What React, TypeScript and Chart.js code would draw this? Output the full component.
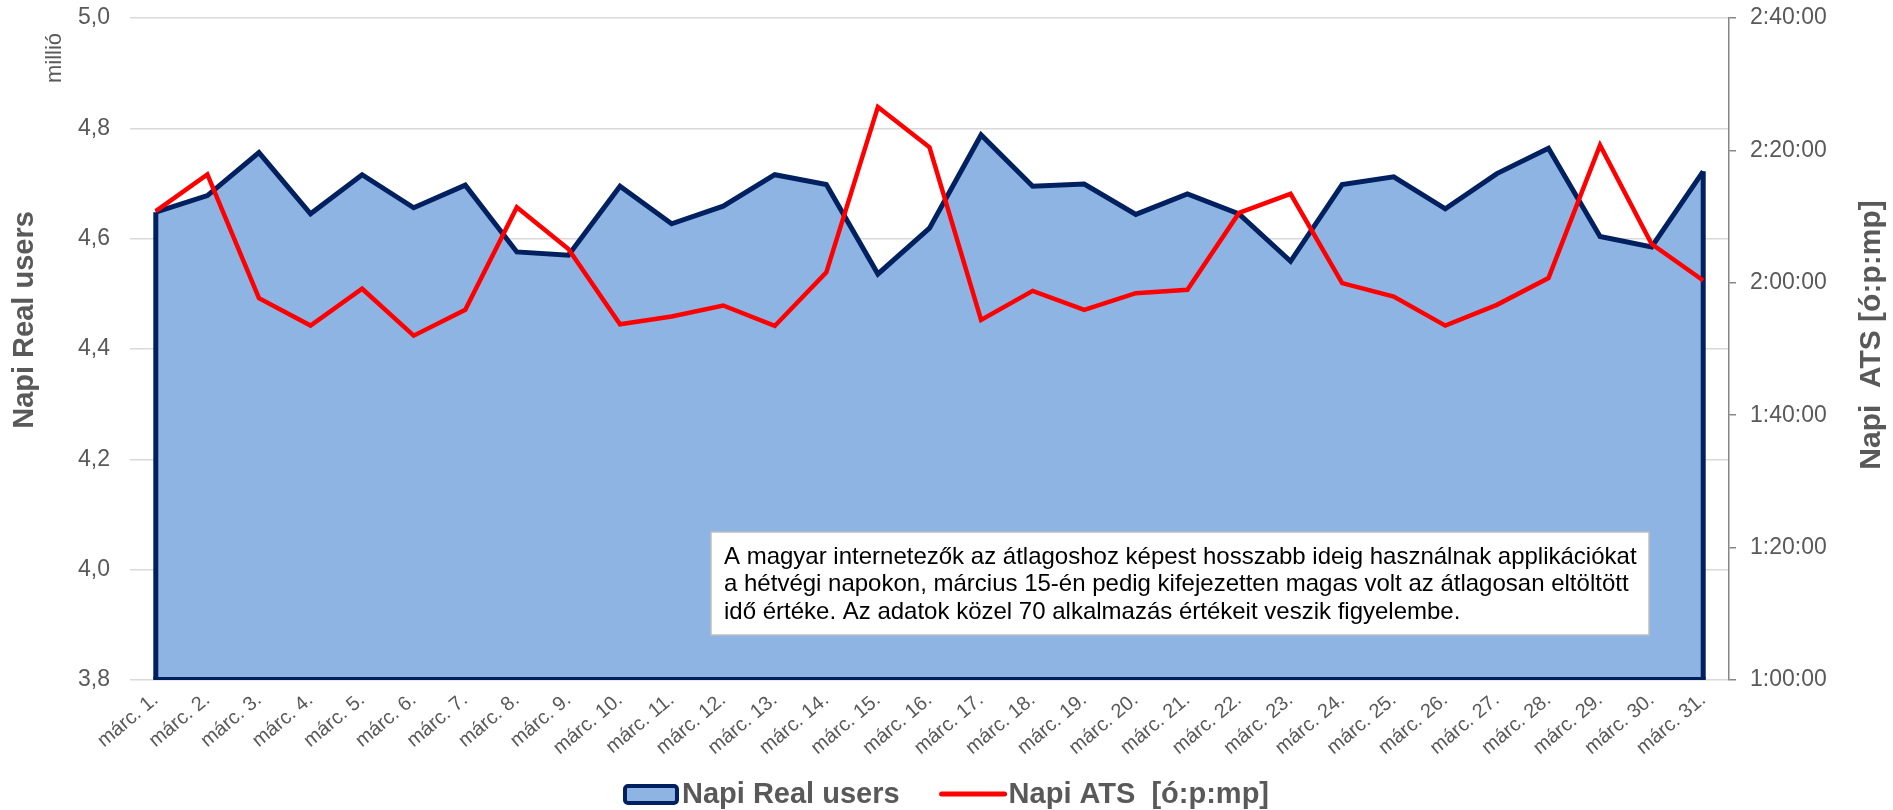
import React, { useEffect, useRef } from 'react';
import { Chart, registerables } from 'chart.js';

Chart.register(...registerables);

const categories = [
  'márc. 1.', 'márc. 2.', 'márc. 3.', 'márc. 4.', 'márc. 5.', 'márc. 6.', 'márc. 7.', 'márc. 8.',
  'márc. 9.', 'márc. 10.', 'márc. 11.', 'márc. 12.', 'márc. 13.', 'márc. 14.', 'márc. 15.', 'márc. 16.',
  'márc. 17.', 'márc. 18.', 'márc. 19.', 'márc. 20.', 'márc. 21.', 'márc. 22.', 'márc. 23.', 'márc. 24.',
  'márc. 25.', 'márc. 26.', 'márc. 27.', 'márc. 28.', 'márc. 29.', 'márc. 30.', 'márc. 31.',
];

// Napi Real users (millió)
const realUsers = [
  4.648, 4.678, 4.756, 4.645, 4.716, 4.656, 4.697, 4.576, 4.570, 4.695, 4.627,
  4.659, 4.716, 4.698, 4.536, 4.619, 4.788, 4.695, 4.699, 4.644, 4.681, 4.645,
  4.559, 4.698, 4.712, 4.654, 4.718, 4.764, 4.604, 4.585, 4.722,
];

// Napi ATS [ó:p:mp]
const atsTimes = [
  '2:10:49', '2:16:22', '1:57:41', '1:53:32', '1:59:06', '1:52:01', '1:55:55', '2:11:25',
  '2:05:06', '1:53:44', '1:54:54', '1:56:34', '1:53:29', '2:01:34', '2:26:34', '2:20:28',
  '1:54:24', '1:58:47', '1:55:55', '1:58:26', '1:58:56', '2:10:33', '2:13:26', '1:59:57',
  '1:57:56', '1:53:32', '1:56:40', '2:00:43', '2:20:48', '2:05:52', '2:00:21',
];

const leftMin = 3.8;
const leftMax = 5.0;
const leftStep = 0.2;
const rightMin = '1:00:00';
const rightMax = '2:40:00';
const rightStep = '0:20:00';

const seriesNames = ['Napi Real users', 'Napi ATS  [ó:p:mp]'];
const leftTitle = 'Napi Real users';
const rightTitle = 'Napi  ATS [ó:p:mp]';
const unitLabel = 'millió';
const noteLines = [
  'A magyar internetezők az átlagoshoz képest hosszabb ideig használnak applikációkat',
  'a hétvégi napokon, március 15-én pedig kifejezetten magas volt az átlagosan eltöltött',
  'idő értéke. Az adatok közel 70 alkalmazás értékeit veszik figyelembe.',
];

const FONT = '"Liberation Sans", Arial, Helvetica, sans-serif';
const GRAY = '#595959';
const NAVY = '#002060';
const FILL = '#8EB4E3';
const RED = '#FF0000';
const GRID = '#D9D9D9';

const toSec = (s: string) => {
  const [h, m, x] = s.split(':').map(Number);
  return h * 3600 + m * 60 + x;
};
const pad = (n: number) => (n < 10 ? '0' + n : '' + n);
const fmtTime = (sec: number) => {
  const t = Math.round(sec);
  return `${Math.floor(t / 3600)}:${pad(Math.floor((t % 3600) / 60))}:${pad(t % 60)}`;
};

const decorPlugin = {
  id: 'decor',
  afterDatasetDraw(chart: any, args: any) {
    if (args.index !== 1) return;
    const meta = chart.getDatasetMeta(1);
    const pts = meta.data;
    if (!pts.length) return;
    const first = pts[0];
    const last = pts[pts.length - 1];
    const bottom = chart.scales.y.getPixelForValue(leftMin);
    const ctx = chart.ctx;
    ctx.save();
    ctx.strokeStyle = NAVY;
    ctx.lineWidth = 5;
    ctx.lineCap = 'butt';
    ctx.beginPath();
    ctx.moveTo(first.x, first.y);
    ctx.lineTo(first.x, bottom - 1);
    ctx.moveTo(last.x, last.y);
    ctx.lineTo(last.x, bottom - 1);
    ctx.stroke();
    ctx.lineWidth = 3;
    ctx.beginPath();
    ctx.moveTo(first.x - 2.5, bottom - 1.5);
    ctx.lineTo(last.x + 2.5, bottom - 1.5);
    ctx.stroke();
    ctx.restore();
  },
  afterDraw(chart: any) {
    const ctx = chart.ctx;
    ctx.save();
    // axis titles
    ctx.fillStyle = GRAY;
    ctx.textAlign = 'center';
    ctx.textBaseline = 'middle';
    ctx.font = `bold 29px ${FONT}`;
    ctx.save();
    ctx.translate(25, 320);
    ctx.rotate(-Math.PI / 2);
    ctx.fillText(leftTitle, 0, 0);
    ctx.restore();
    ctx.font = `bold 30px ${FONT}`;
    ctx.save();
    ctx.translate(1872, 335);
    ctx.rotate(-Math.PI / 2);
    ctx.fillText(rightTitle, 0, 0);
    ctx.restore();
    ctx.font = `22px ${FONT}`;
    ctx.save();
    ctx.translate(55, 58);
    ctx.rotate(-Math.PI / 2);
    ctx.fillText(unitLabel, 0, 0);
    ctx.restore();

    // note box
    const bx = 711, by = 532, bw = 938, bh = 103;
    ctx.fillStyle = '#FFFFFF';
    ctx.fillRect(bx, by, bw, bh);
    ctx.strokeStyle = '#BFBFBF';
    ctx.lineWidth = 1.5;
    ctx.strokeRect(bx, by, bw, bh);
    ctx.fillStyle = '#000000';
    ctx.textAlign = 'left';
    ctx.textBaseline = 'middle';
    ctx.font = `24px ${FONT}`;
    noteLines.forEach((line, i) => ctx.fillText(line, 724, 557 + i * 27.5));

    // legend
    ctx.font = `bold 29px ${FONT}`;
    const w1 = ctx.measureText(seriesNames[0]).width;
    const w2 = ctx.measureText(seriesNames[1]).width;
    const total = 56 + 3 + w1 + 40 + 67 + 2 + w2;
    let x = 946 - total / 2;
    const ly = 794;
    ctx.fillStyle = FILL;
    ctx.strokeStyle = NAVY;
    ctx.lineWidth = 4;
    ctx.beginPath();
    (ctx as any).roundRect ? ctx.roundRect(x + 2, ly - 8, 52, 17, 3) : ctx.rect(x + 2, ly - 8, 52, 17);
    ctx.fill();
    ctx.stroke();
    x += 59;
    ctx.fillStyle = GRAY;
    ctx.textBaseline = 'middle';
    ctx.fillText(seriesNames[0], x, ly + 1);
    x += w1 + 40;
    ctx.strokeStyle = RED;
    ctx.lineWidth = 5;
    ctx.lineCap = 'round';
    ctx.beginPath();
    ctx.moveTo(x + 2, ly);
    ctx.lineTo(x + 65, ly);
    ctx.stroke();
    x += 69;
    ctx.fillText(seriesNames[1], x, ly + 1);
    ctx.restore();
  },
};

export default function App() {
  const ref = useRef<HTMLCanvasElement | null>(null);

  useEffect(() => {
    if (!ref.current) return;
    const chart = new Chart(ref.current, {
      type: 'line',
      data: {
        labels: categories,
        datasets: [
          {
            label: seriesNames[1],
            data: atsTimes.map(toSec),
            yAxisID: 'y1',
            borderColor: RED,
            borderWidth: 4.5,
            pointRadius: 0,
            fill: false,
            tension: 0,
            borderJoinStyle: 'miter',
          },
          {
            label: seriesNames[0],
            data: realUsers,
            yAxisID: 'y',
            borderColor: NAVY,
            backgroundColor: FILL,
            borderWidth: 5,
            pointRadius: 0,
            fill: 'start',
            tension: 0,
            borderJoinStyle: 'miter',
          },
        ],
      },
      options: {
        animation: false,
        responsive: true,
        maintainAspectRatio: false,
        devicePixelRatio: 1,
        layout: { padding: { top: 18, left: 0, right: 0, bottom: 0 } },
        plugins: {
          legend: { display: false },
          tooltip: { enabled: false },
        },
        scales: {
          x: {
            type: 'category',
            offset: true,
            grid: { display: false, drawTicks: false },
            border: { display: false },
            ticks: {
              autoSkip: false,
              maxRotation: 40,
              minRotation: 40,
              padding: 8,
              color: GRAY,
              font: { family: FONT, size: 20 },
            },
            afterFit: (s: any) => {
              s.height = 130;
            },
          },
          y: {
            position: 'left',
            min: leftMin,
            max: leftMax,
            ticks: {
              stepSize: leftStep,
              padding: 20,
              color: GRAY,
              font: { family: FONT, size: 23 },
              callback: (v: any) => Number(v).toFixed(1).replace('.', ','),
            },
            grid: { color: GRID, lineWidth: 1.5, drawTicks: false },
            border: { display: false },
            afterFit: (s: any) => {
              s.width = 130;
              s.paddingTop = 0;
              s.paddingBottom = 0;
            },
          },
          y1: {
            position: 'right',
            min: toSec(rightMin),
            max: toSec(rightMax),
            ticks: {
              stepSize: toSec(rightStep),
              padding: 14,
              color: GRAY,
              font: { family: FONT, size: 23 },
              callback: (v: any) => fmtTime(Number(v)),
            },
            grid: { drawOnChartArea: false, drawTicks: true, tickLength: 7, color: '#868686', lineWidth: 1.5 },
            border: { display: true, color: '#868686', width: 1.5 },
            afterFit: (s: any) => {
              s.width = 164;
              s.paddingTop = 0;
              s.paddingBottom = 0;
            },
          },
        },
      },
      plugins: [decorPlugin],
    });
    return () => chart.destroy();
  }, []);

  return (
    <div style={{ position: 'fixed', left: 0, top: 0, width: 1893, height: 810, background: '#fff' }}>
      <canvas ref={ref} />
    </div>
  );
}
